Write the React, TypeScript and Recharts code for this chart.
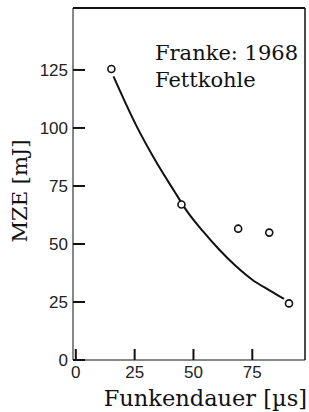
import { ComposedChart, Line, Scatter, XAxis, YAxis, ReferenceLine, Customized } from "recharts";

// measured points (Funkendauer in µs, MZE in mJ)
const measuredX = [15.1, 44.9, 69, 82.2, 90.6];
const measuredY = [125.4, 67, 56.6, 54.9, 24.4];

// fitted curve
const curveX = [16, 25.7, 33.5, 42, 47, 54, 61, 68, 75, 82.5, 88.5];
const curveY = [122.2, 101, 86.5, 72.5, 64.5, 55.5, 47.5, 40.5, 34.6, 29.9, 26.3];

const xTicks = [0, 25, 50, 75];
const yTicks = [0, 25, 50, 75, 100, 125];

const xDomain = [-1.2, 97.4];
const yDomain = [0, 151.7];

const points = measuredX.map((x, i) => ({ x, y: measuredY[i] }));
const curve = curveX.map((x, i) => ({ x, fit: curveY[i] }));

const serif = "'DejaVu Serif', serif";
const sans = "'Liberation Sans', Arial, sans-serif";
const ink = "#111";

// ticks point into the plot, labels sit outside
const YTick = (props: any) => {
    const { x, y, payload } = props;
    return (
        <g>
            <line x1={x + 5} x2={x + 17} y1={y} y2={y} stroke={ink} strokeWidth={2} />
            <text x={x} y={y} dy="0.35em" textAnchor="end" fontFamily={sans} fontSize={17} fill="#222">
                {payload.value}
            </text>
        </g>
    );
};

const XTick = (props: any) => {
    const { x, y, payload } = props;
    return (
        <g>
            <line x1={x} x2={x} y1={y - 5} y2={y - 16} stroke={ink} strokeWidth={2} />
            <text x={x} y={y} dy="0.75em" textAnchor="middle" fontFamily={sans} fontSize={17} fill="#222">
                {payload.value}
            </text>
        </g>
    );
};

const Texts = () => (
    <g>
        <text x={155} y={60} fontFamily={serif} fontSize={21} fill={ink}>Franke: 1968</text>
        <text x={155} y={87} fontFamily={serif} fontSize={21} fill={ink}>Fettkohle</text>
        <text x={307} y={406} textAnchor="end" fontFamily={serif} fontSize={22.5} fill={ink}>Funkendauer [µs]</text>
        <text x={27} y={191} textAnchor="middle" transform="rotate(-90 27 191)" fontFamily={serif} fontSize={21} fill={ink}>MZE [mJ]</text>
    </g>
);

export default function App() {
    return (
        <div style={{ position: "absolute", left: 0, top: 0, width: 309, height: 412, background: "#fff" }}>
            <ComposedChart width={309} height={412} margin={{ top: 8, right: 4, left: 0, bottom: 0 }}>
                <XAxis
                    type="number"
                    dataKey="x"
                    domain={xDomain}
                    ticks={xTicks}
                    allowDataOverflow
                    height={52}
                    stroke={ink}
                    tickLine={false}
                    tickSize={0}
                    tickMargin={5}
                    tick={XTick}
                />
                <YAxis
                    type="number"
                    domain={yDomain}
                    ticks={yTicks}
                    allowDataOverflow
                    width={73}
                    stroke={ink}
                    tickLine={false}
                    tickSize={0}
                    tickMargin={5}
                    tick={YTick}
                />
                {/* frame: top and right edges */}
                <ReferenceLine y={yDomain[1]} stroke={ink} strokeWidth={2} ifOverflow="extendDomain" />
                <ReferenceLine x={xDomain[1]} stroke={ink} strokeWidth={1.5} ifOverflow="extendDomain" />
                <Line
                    data={curve}
                    dataKey="fit"
                    type="monotone"
                    stroke={ink}
                    strokeWidth={2}
                    dot={false}
                    isAnimationActive={false}
                />
                <Scatter
                    data={points}
                    dataKey="y"
                    shape={(p: any) => <circle cx={p.cx} cy={p.cy} r={3.5} fill="#fff" stroke={ink} strokeWidth={1.6} />}
                    isAnimationActive={false}
                />
                <Customized component={Texts} />
            </ComposedChart>
        </div>
    );
}
